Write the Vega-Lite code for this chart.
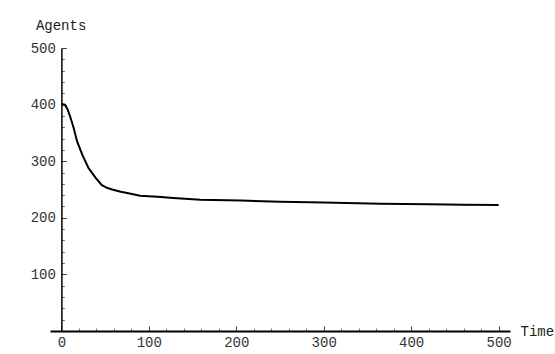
{
  "$schema": "https://vega.github.io/schema/vega-lite/v6.json",
  "width": 460,
  "height": 283,
  "autosize": "none",
  "padding": {"left": 50, "top": 48, "right": 45, "bottom": 23},
  "background": "white",
  "config": {"view": {"stroke": null}, "axis": {"labelFont": "Liberation Mono", "titleFont": "Liberation Mono", "labelFontSize": 14, "titleFontSize": 14, "labelColor": "#333", "titleColor": "#222", "titleFontWeight": "normal", "grid": false, "domainColor": "black", "tickColor": "black"}},
  "data": {"values": [
    {"t": 0, "agents": 401}, {"t": 4, "agents": 400}, {"t": 7, "agents": 392}, {"t": 10, "agents": 379},
    {"t": 14, "agents": 359}, {"t": 18, "agents": 335}, {"t": 24, "agents": 311}, {"t": 31, "agents": 288},
    {"t": 39, "agents": 271}, {"t": 46, "agents": 258}, {"t": 52, "agents": 253}, {"t": 58, "agents": 250},
    {"t": 68, "agents": 246}, {"t": 78, "agents": 243}, {"t": 90, "agents": 239}, {"t": 110, "agents": 237},
    {"t": 128, "agents": 235}, {"t": 159, "agents": 232}, {"t": 205, "agents": 230.5}, {"t": 250, "agents": 228.5},
    {"t": 300, "agents": 227}, {"t": 365, "agents": 225}, {"t": 420, "agents": 224}, {"t": 460, "agents": 223},
    {"t": 500, "agents": 222.5}
  ]},
  "resolve": {"axis": {"x": "independent", "y": "independent"}},
  "layer": [
    {
      "mark": {"type": "line", "opacity": 0},
      "encoding": {
        "x": {"field": "t", "type": "quantitative", "scale": {"domain": [-13, 513], "nice": false, "zero": false},
              "axis": {"orient": "top", "offset": -283, "values": [20, 40, 60, 80, 120, 140, 160, 180, 220, 240, 260, 280, 320, 340, 360, 380, 420, 440, 460, 480], "labels": false, "domain": false, "tickSize": 3, "tickWidth": 1, "tickColor": "#777", "title": null}},
        "y": {"field": "agents", "type": "quantitative", "scale": {"domain": [0, 500], "nice": false},
              "axis": {"orient": "right", "offset": -448.6, "values": [20, 40, 60, 80, 120, 140, 160, 180, 220, 240, 260, 280, 320, 340, 360, 380, 420, 440, 460, 480], "labels": false, "domain": false, "tickSize": 3, "tickWidth": 1, "tickColor": "#777", "title": null}}
      }
    },
    {
      "mark": {"type": "line", "opacity": 0},
      "encoding": {
        "x": {"field": "t", "type": "quantitative", "scale": {"domain": [-13, 513], "nice": false, "zero": false},
              "axis": {"orient": "top", "offset": -283, "values": [0, 100, 200, 300, 400, 500], "labels": false, "domain": false, "tickSize": 5, "tickWidth": 1, "tickColor": "#444", "title": null}},
        "y": {"field": "agents", "type": "quantitative", "scale": {"domain": [0, 500], "nice": false},
              "axis": {"orient": "right", "offset": -448.6, "values": [100, 200, 300, 400, 500], "labels": false, "domain": false, "tickSize": 5, "tickWidth": 1, "tickColor": "#444", "title": null}}
      }
    },
    {
      "mark": {"type": "line", "color": "black", "strokeWidth": 2},
      "encoding": {
        "x": {"field": "t", "type": "quantitative", "scale": {"domain": [-13, 513], "nice": false, "zero": false},
              "axis": {"orient": "bottom", "values": [0, 100, 200, 300, 400, 500], "ticks": false, "labelPadding": 4, "domainWidth": 2, "title": "Time", "titleAlign": "left", "titleBaseline": "middle", "titleX": 470, "titleY": 0, "titleAngle": 0}},
        "y": {"field": "agents", "type": "quantitative", "scale": {"domain": [0, 500], "nice": false},
              "axis": {"orient": "left", "offset": -11.4, "values": [100, 200, 300, 400, 500], "ticks": false, "labelPadding": 6, "domainWidth": 1.5, "title": "Agents", "titleAngle": 0, "titleAlign": "left", "titleBaseline": "middle", "titleX": -26, "titleY": -23}}
      }
    }
  ]
}
